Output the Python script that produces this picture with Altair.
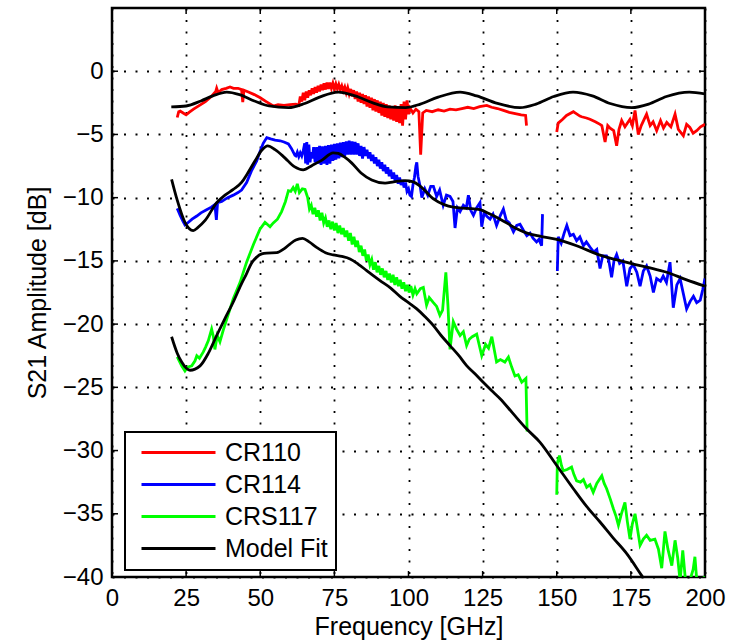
import altair as alt
import pandas as pd

# ---------------- data ----------------
series_names = ["CR110", "CR114", "CRS117", "Model Fit"]
series_colors = ["#ff0000", "#0000ff", "#00ff00", "#000000"]

x_ticks = [0, 25, 50, 75, 100, 125, 150, 175, 200]
y_ticks = [-40, -35, -30, -25, -20, -15, -10, -5, 0]

# CR110 measured (two segments)
cr110_f1 = [22.0, 22.5, 23.0, 24.0, 25.0, 26.0, 27.5, 29.5, 31.5, 33.5, 35.0, 35.3, 35.8, 37.0, 38.5, 39.8, 41.0, 42.5, 43.7, 44.1, 44.5, 46.0, 48.0, 50.0, 52.0, 54.4, 56.0, 58.0, 60.0, 62.0,
            63.0, 63.5, 64.0, 64.5, 65.0, 65.5, 66.0, 66.5, 67.0, 67.5, 68.0, 68.5, 69.0, 69.5, 70.0, 70.5, 71.0, 71.5, 72.0, 72.5, 73.0, 73.5, 74.0, 74.5, 75.0, 75.5, 76.0, 76.5, 77.0, 77.5, 78.0, 78.5, 79.0, 79.5,
            80.0, 80.5, 81.0, 81.5, 82.0, 82.5, 83.0, 83.5, 84.0, 84.5, 85.0, 85.5, 86.0, 86.5, 87.0, 87.5, 88.0, 88.5, 89.0, 89.5, 90.0, 90.5, 91.0, 91.5, 92.0, 92.5, 93.0, 93.5, 94.0, 94.5, 95.0, 95.5, 96.0, 96.5, 97.0, 97.5, 98.0, 98.5, 99.0, 99.5, 100.0,
            100.5, 101.5, 102.5, 103.5, 104.1, 104.8, 106.0, 108.0, 110.0, 112.0, 114.0, 116.0, 118.0, 120.0, 122.0, 124.0, 126.4, 128.0, 130.0, 132.0, 134.0, 136.0, 138.0, 139.5, 139.8]
cr110_db1 = [-3.66, -3.2, -3.15, -3.3, -3.45, -3.25, -3.0, -2.7, -2.4, -2.0, -1.6, -1.35, -1.7, -1.45, -1.35, -1.25, -1.35, -1.35, -1.45, -2.45, -1.5, -1.65, -1.85, -2.1, -2.4, -2.75, -2.65, -2.7, -2.65, -2.6,
             -2.7, -2.0, -2.4, -1.7, -2.3, -1.6, -2.1, -1.5, -1.9, -1.35, -1.8, -1.25, -1.7, -1.15, -1.6, -1.05, -1.5, -0.95, -1.45, -0.9, -1.4, -0.9, -1.35, -0.95, -1.4, -1.0, -1.4, -1.05, -1.45, -1.15, -1.55, -1.25, -1.7, -1.3,
             -1.8, -1.4, -2.0, -1.5, -2.2, -1.6, -2.4, -1.7, -2.5, -1.8, -2.6, -1.9, -2.8, -2.0, -2.9, -2.1, -3.1, -2.2, -3.2, -2.3, -3.3, -2.4, -3.5, -2.5, -3.6, -2.6, -3.7, -2.7, -3.8, -2.8, -3.9, -2.7, -4.0, -2.8, -4.1, -2.6, -4.3, -2.4, -3.8, -2.3, -3.4,
             -2.9, -3.3, -3.0, -3.2, -6.6, -3.3, -3.1, -3.2, -3.05, -3.15, -3.0, -3.05, -2.95, -2.85, -2.95, -2.8, -2.7, -2.85, -2.95, -3.1, -3.25, -3.35, -3.45, -3.5, -4.3]
cr110_f2 = [150.0, 150.5, 152.0, 153.3, 155.6, 156.2, 157.8, 158.4, 160.0, 161.2, 163.0, 164.6, 165.2, 166.3, 167.2, 168.0, 169.2, 170.2, 171.0, 171.9, 173.0, 174.7, 175.5, 176.4, 177.5, 178.5, 180.3, 181.5, 182.5, 183.7, 185.0, 186.0, 187.1, 188.5, 189.9, 191.0, 192.7, 193.8, 194.9, 196.0, 197.2, 198.5, 200.0]
cr110_db2 = [-4.8, -4.1, -3.8, -3.5, -3.2, -3.3, -3.55, -3.6, -3.7, -3.8, -4.0, -4.2, -4.3, -5.6, -4.3, -4.5, -4.7, -5.9, -4.6, -3.9, -4.4, -3.8, -4.3, -3.1, -5.0, -4.3, -3.4, -4.3, -4.0, -4.7, -3.9, -4.5, -4.05, -4.4, -3.4, -4.6, -5.1, -4.2, -4.45, -4.9, -4.7, -4.4, -4.2]

# CR114 measured (two segments)
cr114_f1 = [22.0, 23.0, 24.0, 24.6, 25.5, 27.0, 28.6, 30.0, 31.9, 33.5, 34.7, 35.2, 35.6, 37.0, 39.0, 40.9, 42.5, 43.7, 45.4, 47.0, 48.8, 50.0, 51.0, 52.2, 53.5, 55.0, 56.7, 58.0, 59.5, 60.5, 61.7,
            62.0, 62.5, 63.0, 63.5, 64.0, 64.5, 65.0, 65.3, 65.7, 66.0, 66.4, 66.8, 67.2, 67.6,
            68.0, 68.5, 69.0, 69.5, 70.0, 70.5, 71.0, 71.5, 72.0, 72.5, 73.0, 73.5, 74.0, 74.5, 75.0, 75.5, 76.0, 76.5, 77.0, 77.5, 78.0, 78.5, 79.0, 79.5, 80.0, 80.5, 81.0, 81.5, 82.0, 82.5, 83.0, 83.5, 84.0, 84.5,
            85.0, 85.5, 86.0, 86.5, 87.0, 87.5, 88.0, 88.5, 89.0, 89.5, 90.0, 90.5, 91.0, 91.5, 92.0, 92.5, 93.0, 93.5, 94.0, 94.5, 95.0, 95.5, 96.0, 96.5, 97.0, 97.5, 98.0, 98.5, 99.0, 99.5, 100.0, 100.5, 101.0, 101.5, 102.0, 102.5, 102.8, 103.2,
            104.0, 104.5, 105.5, 106.5, 107.5, 108.4, 109.5, 110.5, 111.7, 112.8, 114.0, 115.0, 115.7, 116.5, 117.4, 118.5, 119.5, 120.2, 121.0, 121.9, 123.0, 124.1, 124.7, 125.5, 126.5, 127.5, 128.5, 129.7, 131.0, 132.0, 133.0, 134.0, 135.4, 136.5, 137.6, 138.8, 139.9, 141.0, 142.0, 143.2, 144.0, 144.9, 145.2]
cr114_db1 = [-10.85, -11.4, -11.9, -12.15, -12.0, -11.7, -11.45, -11.2, -10.95, -10.75, -10.55, -11.75, -10.4, -10.3, -10.0, -9.8, -9.6, -9.4, -8.8, -7.9, -7.1, -6.3, -5.7, -5.25, -5.35, -5.45, -5.5, -5.6, -5.75, -6.1, -6.65,
             -6.7, -6.4, -6.75, -6.45, -6.7, -6.3, -5.7, -7.3, -5.6, -7.4, -5.8, -7.2, -6.4, -6.9,
             -6.0, -7.2, -6.0, -7.3, -5.9, -7.4, -5.95, -7.3, -5.9, -7.4, -5.85, -7.3, -5.8, -7.1, -5.75, -7.0, -5.7, -6.9, -5.65, -6.8, -5.6, -6.7, -5.55, -6.6, -5.5, -6.6, -5.55, -6.6, -5.6, -6.6, -5.7, -6.7, -5.9, -6.9,
             -6.0, -6.7, -6.2, -6.9, -6.4, -7.1, -6.6, -7.3, -6.8, -7.5, -7.0, -7.7, -7.2, -7.9, -7.4, -8.1, -7.6, -8.3, -7.8, -8.5, -8.0, -8.7, -8.2, -8.9, -8.4, -9.0, -8.6, -9.2, -8.8, -9.5, -9.3, -9.8, -9.9, -9.0, -8.4, -7.5, -7.2, -8.3,
             -9.2, -10.0, -9.3, -9.8, -9.1, -9.1, -9.9, -9.4, -10.6, -9.8, -9.9, -10.3, -12.4, -10.8, -11.1, -10.6, -10.8, -9.8, -11.0, -11.4, -10.8, -10.4, -12.3, -11.2, -11.5, -11.7, -11.3, -12.2, -11.4, -10.9, -11.8, -12.0, -12.7, -12.2, -12.1, -12.6, -13.0, -12.8, -13.2, -13.5, -13.3, -13.8, -11.3]
cr114_f2 = [150.2, 150.5, 151.5, 152.5, 153.4, 154.5, 155.6, 156.7, 157.8, 159.0, 160.0, 161.2, 162.5, 163.5, 164.6, 165.5, 166.8, 167.5, 168.5, 169.3, 170.2, 171.2, 172.3, 173.6, 174.7, 175.8, 177.0, 178.1, 179.2, 180.3, 181.5, 182.6, 183.7, 185.0, 185.9, 187.0, 188.2, 189.3, 190.5, 191.6, 192.7, 193.8, 195.0, 196.1, 197.2, 198.4, 199.2, 200.0]
cr114_db2 = [-15.8, -13.1, -13.6, -12.8, -12.2, -13.0, -12.9, -13.4, -13.1, -13.8, -13.5, -13.9, -14.3, -14.1, -15.6, -14.6, -14.6, -14.9, -16.3, -15.0, -14.5, -15.2, -15.0, -17.0, -15.6, -15.3, -15.9, -17.0, -15.8, -15.4, -16.2, -17.5, -16.4, -16.6, -16.2, -16.7, -15.1, -18.7, -16.9, -16.4, -17.6, -18.8, -18.2, -17.8, -18.3, -18.1, -17.3, -16.4]

# CRS117 measured (two segments)
crs117_f1 = [22.0, 23.5, 24.6, 25.5, 26.9, 28.0, 28.6, 29.5, 30.8, 31.6, 32.5, 33.6, 34.2, 34.7, 35.5, 36.4, 37.5, 38.7, 40.9, 43.2, 45.4, 47.7, 49.9, 51.6, 53.3, 54.4, 55.8, 57.2, 58.5, 59.5, 60.3, 61.1, 61.8, 62.5, 63.2, 64.2, 65.1,
             66.0, 66.6, 67.2, 67.8, 68.4, 69.0, 69.6, 70.2, 70.8, 71.4, 72.0, 72.6, 73.2, 73.8, 74.4, 75.0, 75.6, 76.2, 76.8, 77.4, 78.0, 78.6, 79.2, 79.8, 80.4, 81.0, 81.6, 82.2, 82.8, 83.4, 84.0, 84.6, 85.2, 85.8,
             86.4, 87.0, 87.6, 88.2, 88.8, 89.4, 90.0, 90.6, 91.2, 91.8, 92.4, 93.0, 93.6, 94.2, 94.8, 95.4, 96.0, 96.6, 97.2, 97.8, 98.4, 99.0, 99.6, 100.2, 100.8, 101.5, 102.2, 102.8,
             104.0, 105.0, 106.1, 107.0, 108.4, 109.5, 110.6, 111.5, 112.6, 113.3, 114.0, 115.1, 116.2, 117.4, 118.5, 119.6, 120.5, 121.5, 123.0, 124.7, 126.0, 127.0, 128.1, 129.7, 131.0, 132.5, 133.7, 134.8, 135.9, 137.0, 138.2, 139.6, 140.0]
crs117_db1 = [-22.6, -23.3, -23.7, -23.4, -23.3, -22.9, -22.5, -22.7, -22.2, -21.8, -21.3, -20.4, -21.0, -22.0, -20.9, -21.4, -20.5, -19.6, -18.0, -16.7, -15.1, -13.7, -12.5, -11.95, -12.3, -12.0, -11.7, -11.1, -10.3, -9.45, -9.5, -9.2, -9.5, -8.9, -9.6, -9.3, -9.35,
              -10.0, -10.9, -10.6, -11.3, -10.8, -11.5, -11.0, -11.8, -11.2, -12.0, -11.6, -12.3, -11.8, -12.5, -11.9, -12.6, -12.0, -12.8, -12.2, -12.9, -12.4, -13.1, -12.6, -13.4, -12.8, -13.7, -13.1, -13.9, -13.4, -14.3, -13.8, -14.6, -14.1, -15.0,
              -14.5, -15.3, -14.9, -15.7, -15.1, -15.9, -15.4, -16.1, -15.6, -16.3, -15.8, -16.5, -16.0, -16.7, -16.1, -16.9, -16.3, -17.0, -16.5, -17.2, -16.7, -17.4, -16.9, -17.5, -17.0, -17.7, -17.2, -17.6,
              -17.2, -17.1, -18.5, -17.9, -18.3, -18.6, -19.3, -18.9, -15.9, -18.5, -22.0, -19.8, -20.4, -20.9, -20.6, -21.7, -21.2, -21.0, -20.8, -22.5, -21.6, -21.9, -21.0, -23.0, -22.8, -23.0, -22.6, -23.4, -24.1, -24.0, -24.6, -24.3, -28.5]
crs117_f2 = [150.0, 150.2, 150.9, 151.6, 152.2, 153.5, 155.0, 155.8, 156.7, 158.0, 159.0, 160.1, 161.2, 162.3, 163.5, 165.2, 166.0, 166.8, 168.0, 169.1, 170.0, 170.8, 171.8, 173.0, 173.8, 174.7, 175.5, 176.4, 177.3, 178.1, 179.2, 180.3, 181.5, 183.1, 184.3, 185.4, 186.5, 187.5, 188.8, 189.9, 190.8, 191.6, 192.5, 193.5, 195.0, 196.0, 196.6, 197.3, 198.5, 200.0]
crs117_db2 = [-33.5, -31.0, -30.4, -31.2, -31.6, -31.5, -31.3, -31.9, -32.4, -32.5, -32.3, -32.9, -32.7, -33.3, -32.6, -32.0, -32.6, -33.0, -33.8, -34.6, -35.2, -35.9, -35.0, -34.1, -35.6, -37.0, -35.8, -35.0, -36.3, -37.5, -37.0, -36.7, -37.1, -37.0, -37.8, -39.3, -36.4, -37.8, -39.1, -37.1, -38.5, -40.3, -37.9, -40.5, -40.2, -39.4, -38.4, -40.5, -40.2, -40.0]

# Model fits
fit110_f = [20.0, 25.0, 30.0, 34.0, 38.7, 43.0, 48.0, 53.0, 59.5, 65.0, 70.0, 76.3, 82.0, 88.0, 93.0, 99.0, 104.0, 110.0, 117.4, 123.0, 130.0, 137.6, 143.0, 149.0, 155.5, 162.0, 168.0, 175.3, 181.0, 187.0, 194.7, 200.0]
fit110_db = [-2.82, -2.75, -2.35, -1.95, -1.65, -1.85, -2.35, -2.75, -2.88, -2.55, -2.05, -1.65, -1.95, -2.5, -2.82, -2.88, -2.6, -2.05, -1.65, -1.95, -2.55, -2.88, -2.6, -2.0, -1.65, -1.95, -2.55, -2.88, -2.6, -2.0, -1.65, -1.8]
fit114_f = [20.1, 22.0, 24.6, 27.4, 29.0, 31.4, 35.3, 38.1, 40.9, 43.7, 45.4, 48.2, 50.5, 52.5, 55.0, 58.3, 61.5, 64.5, 67.5, 70.7, 74.6, 76.3, 78.5, 80.8, 84.0, 87.6, 92.1, 95.0, 98.8, 101.6, 104.0, 108.4, 112.0, 115.1, 120.0, 124.1, 127.5, 130.9, 136.5, 140.0, 144.3, 150.0, 156.7, 164.6, 170.0, 175.8, 181.5, 187.1, 193.8, 200.0]
fit114_db = [-8.55, -10.2, -11.95, -12.6, -12.35, -11.8, -10.4, -9.8, -9.35, -8.8, -8.2, -7.1, -6.25, -5.9, -6.2, -6.85, -7.55, -7.8, -7.45, -7.05, -6.45, -6.5, -6.8, -7.25, -8.05, -8.6, -8.85, -8.75, -8.65, -8.75, -9.1, -10.1, -10.55, -10.75, -10.85, -10.95, -11.3, -11.7, -12.45, -12.8, -13.05, -13.3, -13.8, -14.55, -14.9, -15.25, -15.55, -15.9, -16.5, -17.0]
fit117_f = [20.1, 22.0, 23.5, 26.3, 29.7, 32.5, 35.3, 38.0, 40.9, 43.5, 45.4, 47.0, 48.8, 50.5, 52.2, 55.6, 58.0, 60.0, 62.0, 64.3, 66.5, 69.0, 72.0, 74.6, 77.5, 80.3, 83.0, 85.9, 88.0, 90.4, 94.0, 97.1, 100.0, 102.8, 105.5, 108.4, 111.0, 114.0, 117.0, 119.6, 122.5, 125.2, 128.0, 130.9, 135.0, 139.8, 144.3, 150.0, 155.6, 160.0, 164.6, 169.0, 173.6, 178.6, 181.0]
fit117_db = [-21.0, -22.3, -23.0, -23.65, -23.3, -22.3, -20.9, -19.6, -18.25, -16.9, -16.0, -15.2, -14.7, -14.45, -14.38, -14.35, -14.05, -13.67, -13.35, -13.22, -13.5, -13.93, -14.35, -14.53, -14.65, -14.85, -15.25, -15.77, -16.15, -16.56, -17.15, -17.8, -18.3, -18.8, -19.4, -20.12, -20.9, -21.7, -22.5, -23.28, -23.95, -24.6, -25.25, -25.9, -27.0, -28.28, -29.33, -31.18, -33.02, -34.4, -35.65, -36.9, -38.15, -39.87, -40.7]

# ---------------- tables ----------------
def seg(fs, dbs, name, seg_id):
    return pd.DataFrame({"f": fs, "db": dbs, "series": name, "seg": seg_id})

meas = pd.concat([
    seg(cr110_f1, cr110_db1, "CR110", "a1"), seg(cr110_f2, cr110_db2, "CR110", "a2"),
    seg(cr114_f1, cr114_db1, "CR114", "b1"), seg(cr114_f2, cr114_db2, "CR114", "b2"),
    seg(crs117_f1, crs117_db1, "CRS117", "c1"), seg(crs117_f2, crs117_db2, "CRS117", "c2"),
], ignore_index=True)
fits = pd.concat([
    seg(fit110_f, fit110_db, "Model Fit", "m1"),
    seg(fit114_f, fit114_db, "Model Fit", "m2"),
    seg(fit117_f, fit117_db, "Model Fit", "m3"),
], ignore_index=True)

W, H = 593, 569
FONT = "Liberation Sans"

xscale = alt.Scale(domain=[0, 200], nice=False, zero=False)
yscale = alt.Scale(domain=[-40, 5], nice=False, zero=False)
cscale = alt.Scale(domain=series_names, range=series_colors)

xaxis = alt.Axis(values=x_ticks, title="Frequency [GHz]", grid=True, gridColor="black",
                 gridDash=[2, 9.5], gridWidth=1.8, gridOpacity=1, ticks=False, domain=False,
                 labelFontSize=24, labelFont=FONT, labelColor="black", labelPadding=9,
                 labelFlush=False, titleFont=FONT, titleFontSize=25, titleFontWeight="normal",
                 titleColor="black", titlePadding=4)
yaxis = alt.Axis(values=y_ticks, title="S21 Amplitude [dB]", grid=True, gridColor="black",
                 gridDash=[2, 9.5], gridWidth=1.8, gridOpacity=1, ticks=False, domain=False,
                 labelFontSize=24, labelFont=FONT, labelColor="black", labelPadding=9,
                 labelFlush=False, titleFont=FONT, titleFontSize=25, titleFontWeight="normal",
                 titleColor="black", titlePadding=12)

legend = alt.Legend(title=None, orient="none", legendX=13, legendY=424,
                    symbolType="stroke", symbolSize=5476, symbolStrokeWidth=3,
                    clipHeight=25, rowPadding=6, labelOffset=8, padding=8, symbolOffset=7,
                    labelFont=FONT, labelFontSize=25, labelColor="black",
                    fillColor="white", strokeColor="black")

meas_layer = alt.Chart(meas).mark_line(strokeWidth=2.8, clip=True).encode(
    x=alt.X("f:Q", scale=xscale, axis=xaxis),
    y=alt.Y("db:Q", scale=yscale, axis=yaxis),
    color=alt.Color("series:N", scale=cscale, legend=legend),
    detail="seg:N",
)
fit_layer = alt.Chart(fits).mark_line(strokeWidth=2.8, clip=True, interpolate="monotone").encode(
    x=alt.X("f:Q", scale=xscale),
    y=alt.Y("db:Q", scale=yscale),
    color=alt.Color("series:N", scale=cscale, legend=legend),
    detail="seg:N",
)

# inward tick marks (MATLAB box style)
xt = pd.DataFrame({"t": x_ticks})
yt = pd.DataFrame({"t": y_ticks})
tick_bottom = alt.Chart(xt).mark_rule(color="black", strokeWidth=1.5).encode(
    x=alt.X("t:Q", scale=xscale), y=alt.value(H), y2=alt.value(H - 6))
tick_top = alt.Chart(xt).mark_rule(color="black", strokeWidth=1.5).encode(
    x=alt.X("t:Q", scale=xscale), y=alt.value(0), y2=alt.value(6))
tick_left = alt.Chart(yt).mark_rule(color="black", strokeWidth=1.5).encode(
    y=alt.Y("t:Q", scale=yscale), x=alt.value(0), x2=alt.value(6))
tick_right = alt.Chart(yt).mark_rule(color="black", strokeWidth=1.5).encode(
    y=alt.Y("t:Q", scale=yscale), x=alt.value(W), x2=alt.value(W - 6))

chart = alt.layer(tick_bottom, tick_top, tick_left, tick_right, meas_layer, fit_layer).properties(
    width=W, height=H,
    padding={"left": 112, "top": 8, "right": 24, "bottom": 67},
    autosize=alt.AutoSizeParams(type="none"),
    background="white",
).configure_view(stroke="black", strokeWidth=2.5).configure_legend(strokeWidth=2)

chart.save("out.html", embed_options={"renderer": "svg", "actions": False})
